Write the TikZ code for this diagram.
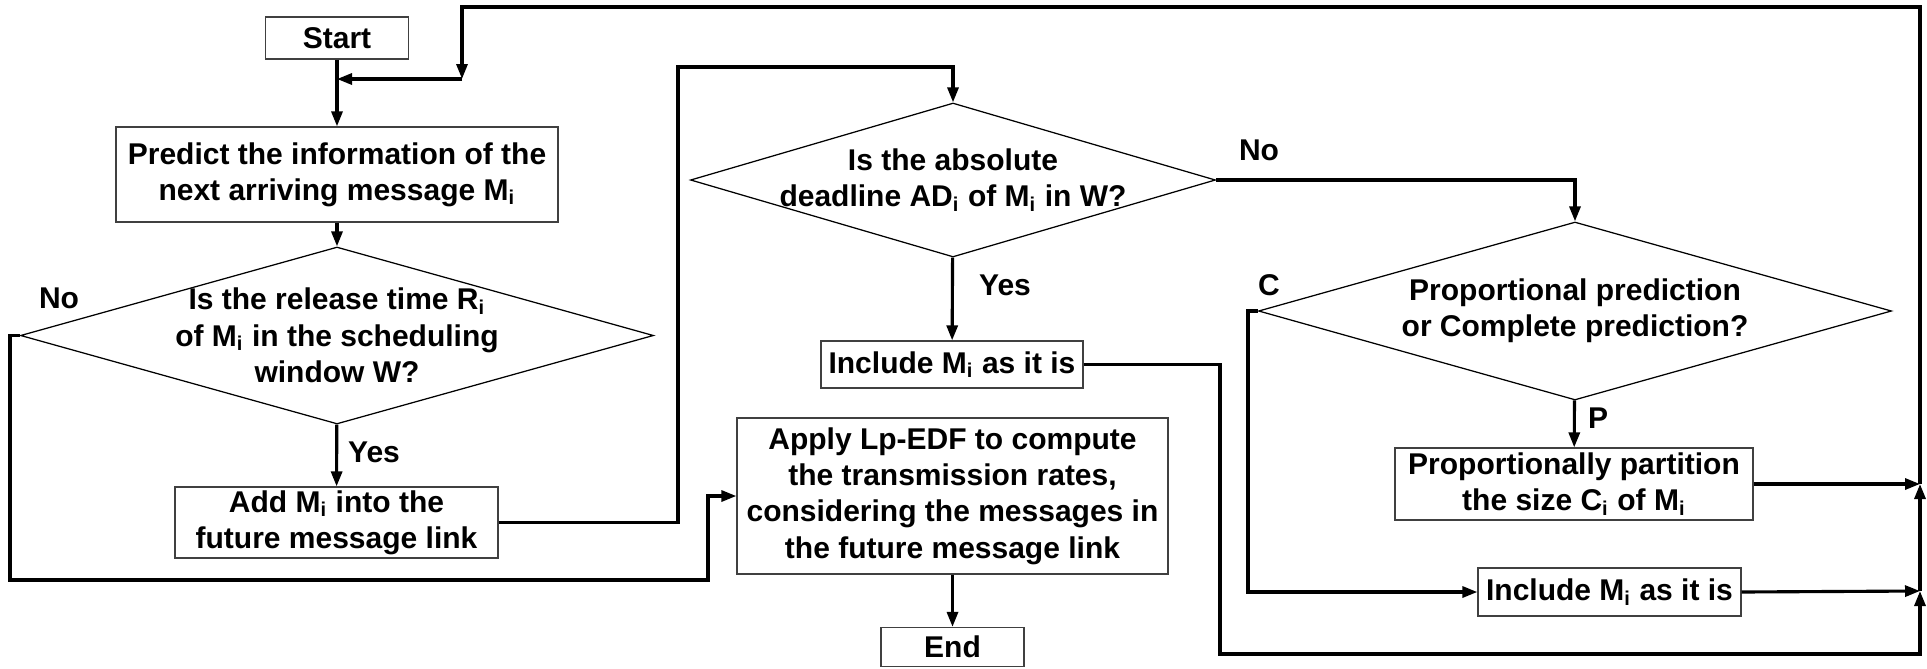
\documentclass[tikz,border=0pt]{standalone}
\usepackage{fontspec}
\setmainfont{Liberation Sans}
\usetikzlibrary{arrows.meta,shapes.geometric}
\begin{document}
\begin{tikzpicture}[x=0.4pt,y=-0.4pt,
  txt/.style={font=\bfseries\fontsize{12}{14.5}\selectfont},
  box/.style={txt,draw=black!75,line width=0.5pt,inner sep=0pt,align=center},
  dia/.style={shape=diamond,draw=black,line width=0.5pt,inner sep=0pt},
  dtext/.style={txt,align=center,inner sep=0pt},
  lbl/.style={txt,inner sep=0pt},
  wire/.style={line width=1.25pt},
  conn/.style={line width=1.25pt,-{Triangle[length=6pt,width=4.4pt]}}]
\useasboundingbox (0,0) rectangle (1927,668);
% nodes
\node[box,minimum width=57.2pt,minimum height=16.8pt] (start) at (337,38) {Start};
\node[box,minimum width=176.8pt,minimum height=38pt] (pred) at (337,174.5) {Predict the information of the\\next arriving message M\textsubscript{i}};
\node[dia,minimum width=253.2pt,minimum height=70.8pt] (d1) at (337,335.5) {};
\node[dtext] (d1t) at (d1.center) {Is the release time R\textsubscript{i}\\of M\textsubscript{i} in the scheduling\\window W?};
\node[box,minimum width=129.2pt,minimum height=28.4pt] (add) at (336.5,522.5) {Add M\textsubscript{i} into the\\future message link};
\node[dia,minimum width=210pt,minimum height=61.6pt] (d2) at (953,180) {};
\node[dtext] (d2t) at (d2.center) {Is the absolute\\deadline AD\textsubscript{i} of M\textsubscript{i} in W?};
\node[box,minimum width=104.8pt,minimum height=18.8pt] (incm) at (952,364.5) {Include M\textsubscript{i} as it is};
\node[box,minimum width=172.4pt,minimum height=62.4pt] (apply) at (952.5,496) {Apply Lp-EDF to compute\\the transmission rates,\\considering the messages in\\the future message link};
\node[box,minimum width=57.2pt,minimum height=15.6pt] (end) at (952.5,647) {End};
\node[dia,minimum width=253.2pt,minimum height=71.2pt] (d3) at (1575,311) {};
\node[dtext] (d3t) at (d3.center) {Proportional prediction\\or Complete prediction?};
\node[box,minimum width=143.2pt,minimum height=28.8pt] (prop) at (1574,484) {Proportionally partition\\the size C\textsubscript{i} of M\textsubscript{i}};
\node[box,minimum width=105.2pt,minimum height=19.2pt] (incl) at (1609.5,592) {Include M\textsubscript{i} as it is};
% labels
\node[lbl] (no1) at (59,298) {No};
\node[lbl] (yes1) at (374,452) {Yes};
\node[lbl] (no2) at (1259,150) {No};
\node[lbl] (yes2) at (1005,285) {Yes};
\node[lbl] (lc) at (1269,285) {C};
\node[lbl] (lp) at (1598,418) {P};
% junctions
\coordinate (j1) at (1920,591);
\coordinate (j2) at (1920,484);
\coordinate (j3) at (462,79);
\coordinate (j4) at (337,79);
% connectors
\draw[conn] (start) -- (pred);
\draw[conn] (pred) -- (d1);
\draw[conn] (d1) -- (add);
\draw[conn] (d1.west) -- (10,335.5) -- (10,580) -- (708,580) -- (708,496) -- (apply.west);
\draw[conn] (add.east) -- (678,522.5) -- (678,67) -- (953,67) -- (d2.north);
\draw[conn] (d2) -- (incm);
\draw[conn] (d2.east) -- (1575,180) -- (d3.north);
\draw[conn] (apply) -- (end);
\draw[conn] (d3) -- (prop);
\draw[conn] (d3.west) -- (1248,311) -- (1248,592) -- (incl.west);
\draw[conn] (prop.east) -- (j2);
\draw[conn] (incl.east) -- (j1);
\draw[conn] (incm.east) -- (1220,364.5) -- (1220,654) -- (1920,654) -- (j1);
\draw[conn] (j1) -- (j2);
\draw[conn] (j2) -- (1920,7) -- (462,7) -- (j3);
\draw[conn] (j3) -- (j4);
\end{tikzpicture}
\end{document}
